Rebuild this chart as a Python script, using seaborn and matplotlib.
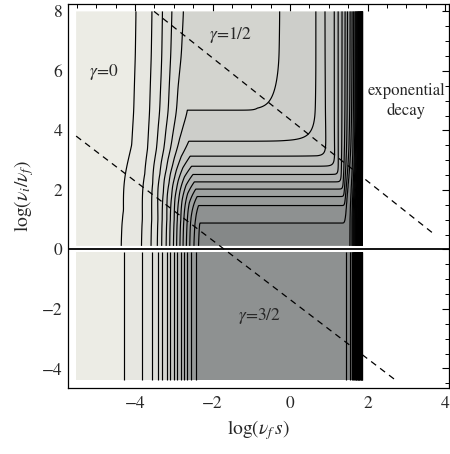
import numpy as np
import matplotlib
matplotlib.use("Agg")
import matplotlib.pyplot as plt
import seaborn as sns
from matplotlib.colors import LinearSegmentedColormap

# ---------------- data ----------------
# contour levels of the local exponent gamma crossed in the small-s transition (lower half, y<0)
lower_levels = [0.1, 0.2, 0.3, 0.4, 0.5, 0.6, 0.7, 0.8, 0.9, 1.0, 1.1, 1.2, 1.3, 1.4]
lower_x = [-4.28, -3.81, -3.57, -3.41, -3.30, -3.18, -3.09, -2.99, -2.91, -2.82,
           -2.74, -2.65, -2.56, -2.44]
plateau_low = 1.49          # gamma = 3/2 plateau (kept inside the 1.4-1.5 band)
plateau_edge_x = -2.33

# upper half: plateau gamma as a function of log(nu_i/nu_f) (horizontal contour heights)
plateau_y = [0.12, 1.05, 1.53, 1.80, 2.02, 2.28, 2.50, 2.78, 3.10, 3.57, 4.58, 6.5, 8.0]
plateau_gamma = [1.53, 1.5, 1.4, 1.3, 1.2, 1.1, 1.0, 0.9, 0.8, 0.7, 0.6, 0.54, 0.52]

# exponential-decay rise: x positions of levels at the top (y=8) and the bottom (y<0)
decay_levels = [0.0, 0.5, 0.6, 0.7, 0.8, 0.9, 1.0, 1.1, 1.2, 1.3, 1.4, 1.5, 1.6, 1.7, 2.0, 2.5, 3.3]
decay_x_top = [-2.0, -0.9, -0.23, 0.67, 0.90, 1.14, 1.24, 1.34, 1.42, 1.48, 1.55, 1.60,
               1.64, 1.68, 1.75, 1.82, 1.88]
decay_x_bottom = [-1.5, -0.2, 0.35, 0.75, 1.05, 1.18, 1.25, 1.30, 1.34, 1.37, 1.40, 1.44,
                  1.55, 1.60, 1.68, 1.76, 1.88]

# dashed guide lines
dash_lower_x = [-5.52, 2.71]
dash_lower_y = [3.81, -4.38]
dash_upper_x = [-3.51, 3.74]
dash_upper_y = [8.0, 0.49]

x_ticks = [-4, -2, 0, 2, 4]
y_ticks = [-4, -2, 0, 2, 4, 6, 8]
region_labels = [r"$\gamma$=0", r"$\gamma$=1/2", r"$\gamma$=3/2", "exponential\ndecay"]

# ---------------- build the gamma field ----------------
G_x = np.concatenate([[-5.6], lower_x, [plateau_edge_x]])
G_v = np.concatenate([[0.0], lower_levels, [plateau_low]])

xs = np.linspace(-5.52, 1.88, 700)
y_up = np.linspace(0.12, 8.0, 500)
y_lo = np.linspace(-4.38, -0.08, 40)

def smax(a, b, k=25.0):
    m = np.maximum(a, b)
    return m + np.log(np.exp(k * (a - m)) + np.exp(k * (b - m))) / k

def smooth(v, grid, sigma):
    step = grid[1] - grid[0]
    n = int(4 * sigma / step)
    kx = np.arange(-n, n + 1) * step
    ker = np.exp(-0.5 * (kx / sigma) ** 2)
    ker /= ker.sum()
    vp = np.pad(v, n, mode='edge')
    return np.convolve(vp, ker, mode='valid')

dxb = np.array(decay_x_bottom)
dxt = np.array(decay_x_top)

# lower half: depends on x only
g_low_row = np.maximum(np.interp(xs, G_x, G_v), np.interp(xs, dxb, decay_levels))
Z_lo = np.tile(g_low_row, (len(y_lo), 1))

# upper half (plateau curve lightly smoothed so the contour bends are rounded)
P_rows = smooth(np.interp(y_up, plateau_y, plateau_gamma), y_up, 0.22)
Z_up = np.empty((len(y_up), len(xs)))
for j, P in enumerate(P_rows):
    w = np.clip((plateau_low - P) / (plateau_low - 0.52), 0, 1)
    T = np.interp(xs + 0.35 * w, G_x, G_v) / plateau_low
    a = P * T
    xk = (1 - w) * dxb + w * dxt
    b = np.interp(xs, xk, decay_levels)
    Z_up[j] = smax(a, b)

# ---------------- style ----------------
sns.set_theme(style="white")
plt.rcParams['font.family'] = ['STIXGeneral', 'Liberation Serif', 'DejaVu Serif']
plt.rcParams['mathtext.fontset'] = 'stix'
plt.rcParams['axes.unicode_minus'] = True

anchors = [(0.0, (238, 238, 231)), (0.5, (214, 215, 210)), (1.0, (182, 184, 182)),
           (1.45, (142, 145, 145)), (1.6, (128, 131, 131)), (1.7, (70, 72, 72)),
           (1.85, (20, 20, 20)), (2.0, (0, 0, 0)), (3.4, (0, 0, 0))]
vmax = 3.4
cmap = LinearSegmentedColormap.from_list(
    "grayshade", [(v / vmax, tuple(c / 255 for c in col)) for v, col in anchors])

fill_levels = np.round(np.arange(0.0, 3.45, 0.1), 2)
line_levels = np.round(np.arange(0.1, 3.35, 0.1), 2)

fig = plt.figure(figsize=(4.5, 4.54), dpi=100)
ax = fig.add_axes([0.1511, 0.1454, 0.8467, 0.8452])
ax.set_facecolor('white')

for Y, Z in ((y_up, Z_up), (y_lo, Z_lo)):
    ax.contourf(xs, Y, Z, levels=fill_levels, cmap=cmap, vmin=0, vmax=vmax,
                extend='both', antialiased=True)
    ax.contour(xs, Y, Z, levels=line_levels, colors='black', linewidths=0.85)

# zero axis line
ax.axhline(0, color='black', lw=1.3, zorder=5)

# dashed guides
sns.lineplot(x=dash_lower_x, y=dash_lower_y, color='black', lw=0.9, ls=(0, (5, 4)),
             ax=ax, sort=False, estimator=None, zorder=6)
sns.lineplot(x=dash_upper_x, y=dash_upper_y, color='black', lw=0.9, ls=(0, (5, 4)),
             ax=ax, sort=False, estimator=None, zorder=6)

# region labels
ax.text(-4.8, 5.98, region_labels[0], ha='center', va='center', fontsize=12.5)
ax.text(-1.54, 7.21, region_labels[1], ha='center', va='center', fontsize=12.5)
ax.text(-0.8, -2.22, region_labels[2], ha='center', va='center', fontsize=12.5)
ax.text(3.0, 5.0, region_labels[3], ha='center', va='center', fontsize=12,
        linespacing=1.35)

ax.set_xlim(-5.73, 4.10)
ax.set_ylim(-4.655, 8.24)
ax.set_xticks(x_ticks)
ax.set_yticks(y_ticks)
ax.set_xticks(np.arange(-5.5, 4.01, 0.5), minor=True)
ax.set_yticks(np.arange(-4.5, 8.01, 0.5), minor=True)
ax.tick_params(which='both', direction='in', top=True, right=True, color='black',
               labelsize=12.5)
ax.tick_params(which='major', length=4.8, width=0.8)
ax.tick_params(which='minor', length=2.8, width=0.7)
ax.tick_params(axis='x', pad=6)
ax.tick_params(axis='y', pad=4)
for sp in ax.spines.values():
    sp.set_color('black')
    sp.set_linewidth(0.9)

ax.set_xlabel(r"$\log\!\left(\nu_f\, s\right)$", fontsize=14, labelpad=4)
ax.set_ylabel(r"$\log\!\left(\nu_i/\nu_f\right)$", fontsize=14, labelpad=4)

fig.savefig("out.png", dpi=100, facecolor='white')
